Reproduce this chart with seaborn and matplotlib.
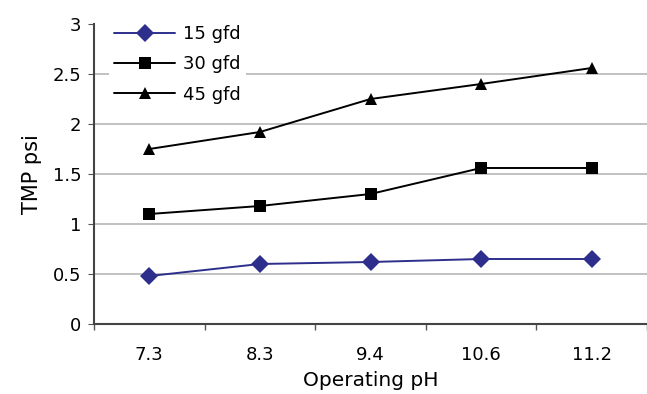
import numpy as np
import pandas as pd
import matplotlib.pyplot as plt
import seaborn as sns

# Data
ph_labels = ['7.3', '8.3', '9.4', '10.6', '11.2']
tmp_15 = [0.48, 0.60, 0.62, 0.65, 0.65]
tmp_30 = [1.10, 1.18, 1.30, 1.56, 1.56]
tmp_45 = [1.75, 1.92, 2.25, 2.40, 2.56]
series_names = ['15 gfd', '30 gfd', '45 gfd']

df = pd.DataFrame({
    'pH': ph_labels * 3,
    'TMP': tmp_15 + tmp_30 + tmp_45,
    'Flux': np.repeat(series_names, len(ph_labels)),
})

sns.set_style('white')
plt.rcParams['font.family'] = ['DejaVu Sans']
plt.rcParams['text.color'] = 'black'
plt.rcParams['axes.labelcolor'] = 'black'
plt.rcParams['xtick.color'] = 'black'
plt.rcParams['ytick.color'] = 'black'

fig = plt.figure(figsize=(6.47, 3.94), dpi=100)
ax = fig.add_axes([94 / 647, 70 / 394, 553 / 647, 300 / 394])

palette = {'15 gfd': '#2E2F8C', '30 gfd': 'black', '45 gfd': 'black'}
markers = {'15 gfd': 'D', '30 gfd': 's', '45 gfd': '^'}
sns.lineplot(data=df, x='pH', y='TMP', hue='Flux', style='Flux',
             palette=palette, markers=markers, dashes=False, sort=False,
             linewidth=1.4, markersize=9, markeredgewidth=0, ax=ax)

ax.set_xlim(-0.5, -0.5 + 553 / 112)
ax.set_ylim(0, 3)
ax.set_yticks(np.arange(0, 3.01, 0.5))
ax.set_yticklabels(['0', '0.5', '1', '1.5', '2', '2.5', '3'])
ax.yaxis.grid(True, color='#b0b0b0', linewidth=1.1)
ax.set_axisbelow(True)
# no gridline along the top
ax.get_ygridlines()[-1].set_visible(False)

# ticks between the categories on the x axis
ax.set_xticks(np.arange(-0.5, 5, 1.0), minor=True)
ax.tick_params(axis='x', which='major', length=0, pad=16, labelsize=13)
ax.tick_params(axis='x', which='minor', length=4, width=1, color='#555555', direction='out')
ax.tick_params(axis='y', length=4, width=0.8, color='#555555', direction='out', labelsize=13, pad=5)
ax.tick_params(bottom=True, left=True, which='both')

for side in ['top', 'right']:
    ax.spines[side].set_visible(False)
for side in ['left', 'bottom']:
    ax.spines[side].set_color('#444444')
    ax.spines[side].set_linewidth(1.5)

ax.set_xlabel('Operating pH', fontsize=14.5, labelpad=5)
ax.set_ylabel('TMP psi', fontsize=15, labelpad=8)

leg = ax.legend(loc='upper left', bbox_to_anchor=(0.01, 1.045), frameon=True,
                framealpha=1, edgecolor='white', fontsize=13,
                handlelength=3.4, labelspacing=0.68, borderpad=0.3,
                handletextpad=0.4)
leg.get_frame().set_linewidth(0)
leg.set_title(None)

fig.savefig('out.png', dpi=100)
